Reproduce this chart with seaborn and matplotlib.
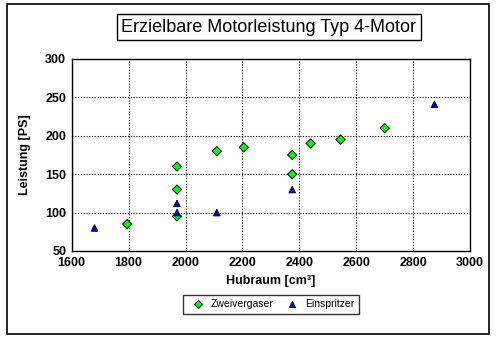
import matplotlib
matplotlib.use("Agg")
import matplotlib.pyplot as plt
import seaborn as sns
import pandas as pd
from matplotlib.patches import Rectangle

# Data
zw_hubraum = [1795, 1970, 1970, 1970, 2110, 2205, 2375, 2375, 2440, 2545, 2700]
zw_leistung = [85, 160, 130, 95, 180, 185, 175, 150, 190, 195, 210]
ei_hubraum = [1680, 1970, 1970, 2110, 2375, 2875]
ei_leistung = [80, 112, 100, 100, 130, 241]
series_names = ["Zweivergaser", "Einspritzer"]
x_ticks = [1600, 1800, 2000, 2200, 2400, 2600, 2800, 3000]
y_ticks = [50, 100, 150, 200, 250, 300]

df = pd.DataFrame({
    "Hubraum": zw_hubraum + ei_hubraum,
    "Leistung": zw_leistung + ei_leistung,
    "Typ": [series_names[0]] * len(zw_hubraum) + [series_names[1]] * len(ei_hubraum),
})

sns.set_style("white")
plt.rcParams["font.family"] = ["Liberation Sans", "DejaVu Sans"]
plt.rcParams["text.color"] = "black"
plt.rcParams["axes.labelcolor"] = "black"
plt.rcParams["xtick.color"] = "black"
plt.rcParams["ytick.color"] = "black"

fig = plt.figure(figsize=(4.97, 3.39), dpi=100)
ax = fig.add_axes([0.1443, 0.2596, 0.9457 - 0.1443, 0.826 - 0.2596])

sns.scatterplot(data=df, x="Hubraum", y="Leistung", hue="Typ", style="Typ",
                hue_order=series_names, style_order=series_names,
                palette={"Zweivergaser": "#00ff00", "Einspritzer": "#0000ff"},
                markers={"Zweivergaser": "D", "Einspritzer": "^"},
                s=22, edgecolor="black", linewidth=0.7, ax=ax, zorder=3)

ax.set_xlim(1600, 3000)
ax.set_ylim(50, 300)
ax.set_xticks(x_ticks)
ax.set_yticks(y_ticks)
ax.grid(True, color="black", linestyle=(0, (1, 1.5)), linewidth=0.8)
for sp in ax.spines.values():
    sp.set_visible(True)
    sp.set_color("black")
    sp.set_linewidth(1.0)
ax.tick_params(length=0, labelsize=9, pad=4)
for lbl in ax.get_xticklabels() + ax.get_yticklabels():
    lbl.set_fontweight("bold")
ax.set_xlabel("Hubraum [cm³]", fontsize=9, fontweight="bold", labelpad=5)
ax.set_ylabel("Leistung [PS]", fontsize=9, fontweight="bold", labelpad=10)

leg = ax.legend(loc="upper center", bbox_to_anchor=(0.5, -0.2), ncol=2,
                frameon=True, fancybox=False, fontsize=7.5, handletextpad=0.2,
                columnspacing=0.8, borderpad=0.45, markerscale=0.8)
leg.get_frame().set_edgecolor("black")
leg.get_frame().set_linewidth(1.0)

fig.text(0.5412, 1 - 27 / 339, "Erzielbare Motorleistung Typ 4-Motor",
         ha="center", va="center", fontsize=13,
         bbox=dict(boxstyle="square,pad=0.25", facecolor="white", edgecolor="black", linewidth=1.0))

fig.patches.append(Rectangle((7 / 497, 1 - 334 / 339), (489 - 7) / 497, (334 - 4) / 339,
                             transform=fig.transFigure, fill=False, edgecolor="black",
                             linewidth=1.2))

fig.savefig("out.png", dpi=100)
